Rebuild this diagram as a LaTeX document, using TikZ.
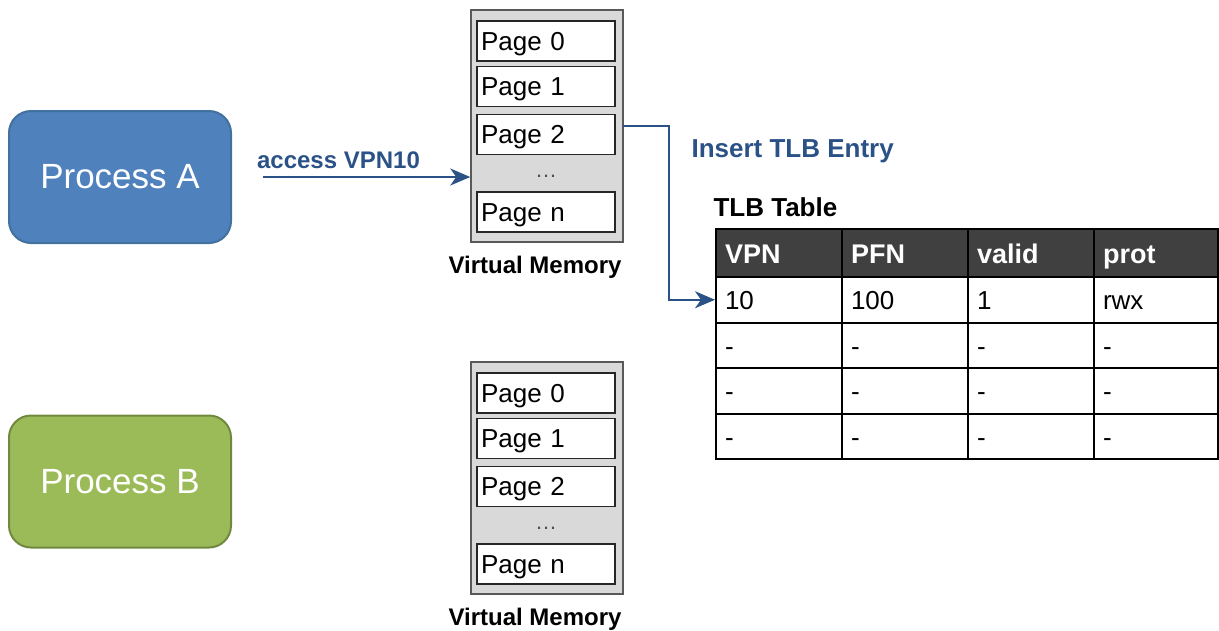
\documentclass[tikz,border=0pt]{standalone}
\usepackage{fontspec}
\setmainfont{Liberation Sans}
\usetikzlibrary{arrows.meta,calc}
\definecolor{procA}{HTML}{4F81BD}
\definecolor{procAline}{HTML}{41719C}
\definecolor{procB}{HTML}{9BBB59}
\definecolor{procBline}{HTML}{71893F}
\definecolor{lblue}{HTML}{2B5286}
\definecolor{vmfill}{HTML}{D9D9D9}
\definecolor{vmline}{HTML}{595959}
\definecolor{hdr}{HTML}{404040}
\begin{document}
\begin{tikzpicture}[x=1pt,y=-1pt,
  proc/.style={rounded corners=22pt, line width=2pt, minimum width=222pt, minimum height=132pt, inner sep=0pt, text=white, font=\fontsize{35}{40}\selectfont},
  vmbox/.style={draw=vmline, fill=vmfill, line width=1.5pt, minimum width=152pt, minimum height=232pt, inner sep=0pt},
  pagebox/.style={draw=black!85, fill=white, line width=1.5pt, minimum height=40pt, text width=130pt, inner xsep=4pt, inner ysep=0pt, text height=22pt, text depth=4pt, align=left, font=\fontsize{26}{30}\selectfont},
  dots/.style={text=black!70, inner sep=0pt, font=\fontsize{22}{24}\selectfont},
  vmlabel/.style={anchor=base, font=\bfseries\fontsize{24}{28}\selectfont},
  bluelabel/.style={text=lblue, font=\bfseries\fontsize{26}{30}\selectfont},
  cell/.style={draw=black, line width=2pt, inner xsep=9pt, inner ysep=0pt, text height=24pt, text depth=4pt, align=left, fill=white, font=\fontsize{26}{30}\selectfont},
  hdrcell/.style={cell, fill=hdr, text=white, font=\bfseries\fontsize{27}{30}\selectfont},
  conn/.style={draw=lblue, line width=1.6pt, -{Stealth[length=20pt,width=17pt,inset=6pt]}},
]
\useasboundingbox (0,0) rectangle (1219,630);

% processes
\node[proc, fill=procA, draw=procAline] (pa) at (120,177) {Process A};
\node[proc, fill=procB, draw=procBline] (pb) at (120,481.5) {Process B};

% virtual memory A
\node[vmbox] (vmA) at (547,126) {};
\node[pagebox] (a0) at (546,41) {Page 0};
\node[pagebox] (a1) at (546,86.5) {Page 1};
\node[pagebox] (a2) at (546,134.5) {Page 2};
\node[dots] (ad) at (546,176) {\ldots};
\node[pagebox] (an) at (546,212) {Page n};
\node[vmlabel] (vmAl) at (535,273) {Virtual Memory};

% virtual memory B
\node[vmbox] (vmB) at (547,478) {};
\node[pagebox] (b0) at (546,393) {Page 0};
\node[pagebox] (b1) at (546,438.5) {Page 1};
\node[pagebox] (b2) at (546,486.5) {Page 2};
\node[dots] (bd) at (546,528) {\ldots};
\node[pagebox] (bn) at (546,564) {Page n};
\node[vmlabel] (vmBl) at (535,625) {Virtual Memory};

% labels
\node[bluelabel, anchor=base, font=\bfseries\fontsize{24}{28}\selectfont] (acc) at (338.5,168) {access VPN10};
\node[bluelabel, anchor=base west] (ins) at (688,157) {Insert TLB Entry};
\node[anchor=base west, font=\bfseries\fontsize{26}{30}\selectfont] (tlbl) at (710,216) {TLB Table};

% table
\foreach \c/\x/\tw/\t in {1/779/108/VPN, 2/905/108/PFN, 3/1031/108/valid, 4/1156/106/prot}
  \node[hdrcell, text width=\tw pt, minimum height=48pt] (t-0-\c) at (\x,253) {\t};
\foreach \c/\x/\tw/\t in {1/779/108/10, 2/905/108/100, 3/1031/108/1, 4/1156/106/rwx}
  \node[cell, text width=\tw pt, minimum height=45.5pt] (t-1-\c) at (\x,299.75) {\t};
\foreach \r/\y in {2/345.25, 3/390.75, 4/436.25}
  \foreach \c/\x/\tw in {1/779/108, 2/905/108, 3/1031/108, 4/1156/106}
    \node[cell, text width=\tw pt, minimum height=45.5pt] (t-\r-\c) at (\x,\y) {-};

% connectors
\coordinate (accs) at (263,177);
\draw[conn] (accs) -- (accs -| vmA.west);
\coordinate (inss) at (623,126);
\draw[conn] (inss) -- ++(46,0) |- (t-1-1.west);
\end{tikzpicture}
\end{document}
